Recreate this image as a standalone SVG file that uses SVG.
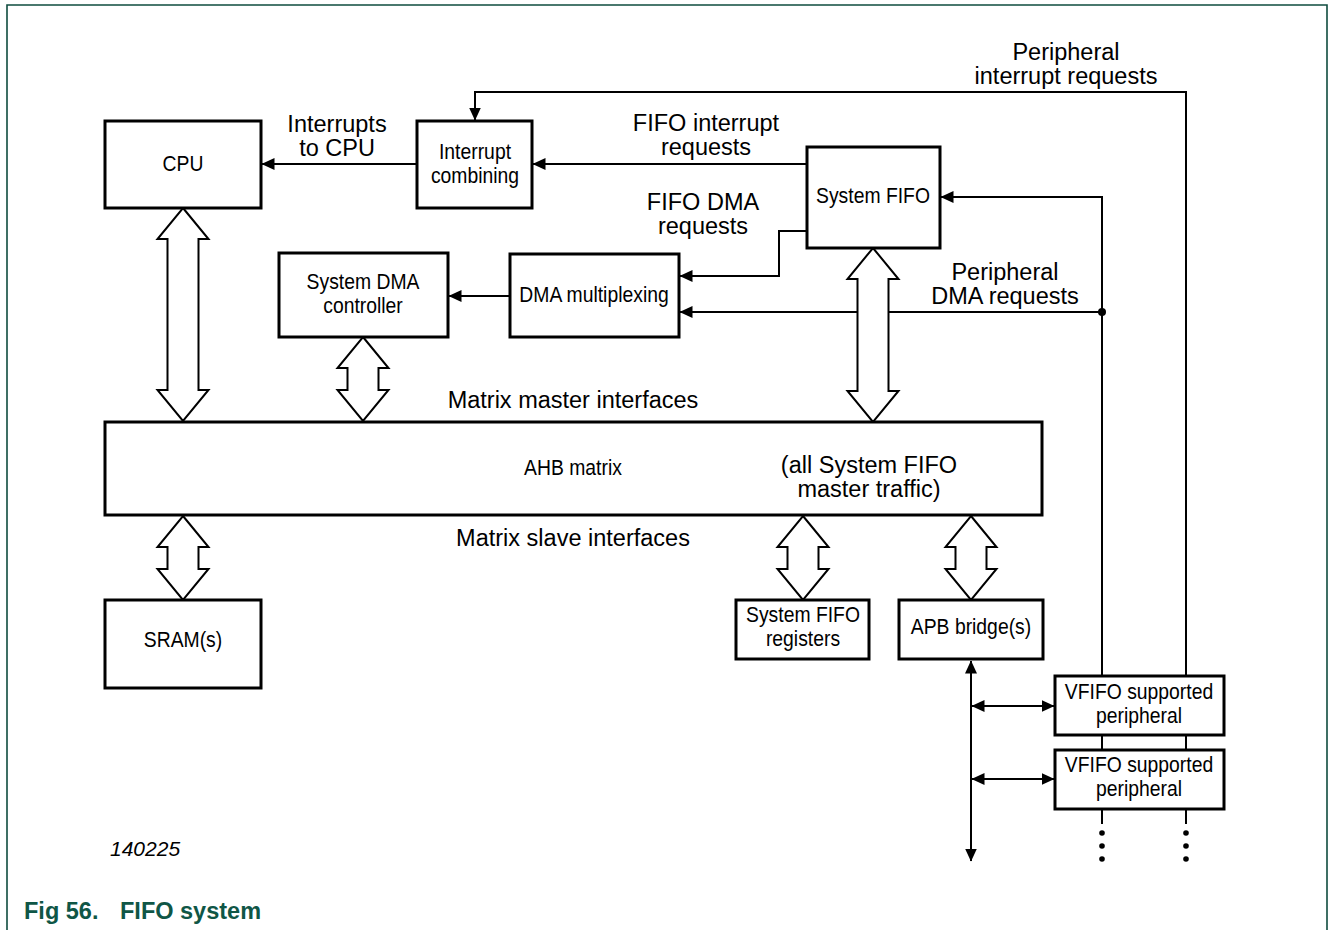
<svg xmlns="http://www.w3.org/2000/svg" width="1328" height="930" viewBox="0 0 1328 930">
<style>
.box{fill:#fff;stroke:#000;stroke-width:3}
.bus{fill:#fff;stroke:#000;stroke-width:2;stroke-linejoin:miter}
.ln{fill:none;stroke:#000;stroke-width:2}
.dash{fill:none;stroke:#000;stroke-width:2;stroke-dasharray:7,5}
.lbl{font-family:"Liberation Sans",Arial,sans-serif;font-size:23.5px;fill:#000;text-anchor:middle}
.bt{font-family:"Liberation Sans",Arial,sans-serif;font-size:22.5px;fill:#000;text-anchor:middle}
.cap{font-family:"Liberation Sans",Arial,sans-serif;font-size:23.5px;font-weight:bold;fill:#0f5646}
.id{font-family:"Liberation Sans",Arial,sans-serif;font-size:21px;font-style:italic;fill:#000}
</style>
<defs>
<marker id="ah" markerUnits="userSpaceOnUse" markerWidth="13" markerHeight="12" viewBox="0 0 13 12" refX="12.5" refY="6" orient="auto-start-reverse">
<path d="M0,0 L13,6 L0,12 z" fill="#000"/>
</marker>
</defs>
<rect width="1328" height="930" fill="#fff"/>
<path d="M7,930 L7,5 L1327,5 L1327,930" fill="none" stroke="#0f4c3f" stroke-width="1.6"/>

<g id="connectors">
<line class="ln" x1="417" y1="164" x2="262" y2="164" marker-end="url(#ah)"/>
<line class="ln" x1="807" y1="164" x2="533" y2="164" marker-end="url(#ah)"/>
<polyline class="ln" points="1186,676 1186,92 475,92 475,120" marker-end="url(#ah)"/>
<polyline class="ln" points="1102,676 1102,197 941,197" marker-end="url(#ah)"/>
<line class="ln" x1="1102" y1="312" x2="680" y2="312" marker-end="url(#ah)"/>
<circle cx="1102" cy="312" r="4" fill="#000"/>
<polyline class="ln" points="807,231 779,231 779,276 680,276" marker-end="url(#ah)"/>
<line class="ln" x1="510" y1="296" x2="449" y2="296" marker-end="url(#ah)"/>
<polyline class="dash" points="873,423 873,441 971,441 971,514" marker-end="url(#ah)"/>
<line class="ln" x1="971" y1="661" x2="971" y2="861" marker-start="url(#ah)" marker-end="url(#ah)"/>
<line class="ln" x1="972" y1="706" x2="1054" y2="706" marker-start="url(#ah)" marker-end="url(#ah)"/>
<line class="ln" x1="972" y1="779" x2="1054" y2="779" marker-start="url(#ah)" marker-end="url(#ah)"/>
<line class="ln" x1="1102" y1="735" x2="1102" y2="750"/>
<line class="ln" x1="1186" y1="735" x2="1186" y2="750"/>
<line class="ln" x1="1102" y1="809" x2="1102" y2="824"/>
<line class="ln" x1="1186" y1="809" x2="1186" y2="824"/>
<g fill="#000">
<circle cx="1102" cy="833" r="2.8"/><circle cx="1102" cy="846" r="2.8"/><circle cx="1102" cy="859" r="2.8"/>
<circle cx="1186" cy="833" r="2.8"/><circle cx="1186" cy="846" r="2.8"/><circle cx="1186" cy="859" r="2.8"/>
</g>
<polygon class="bus" points="183,208 208.5,239 198.5,239 198.5,390 208.5,390 183,421 157.5,390 167.5,390 167.5,239 157.5,239"/>
<polygon class="bus" points="363,337 388.5,368 378.5,368 378.5,390 388.5,390 363,421 337.5,390 347.5,390 347.5,368 337.5,368"/>
<polygon class="bus" points="873,248 898.5,279 888.5,279 888.5,391 898.5,391 873,422 847.5,391 857.5,391 857.5,279 847.5,279"/>
<polygon class="bus" points="183,516 208.5,547 198.5,547 198.5,569 208.5,569 183,600 157.5,569 167.5,569 167.5,547 157.5,547"/>
<polygon class="bus" points="803,516 828.5,547 818.5,547 818.5,569 828.5,569 803,600 777.5,569 787.5,569 787.5,547 777.5,547"/>
<polygon class="bus" points="971,516 996.5,547 986.5,547 986.5,569 996.5,569 971,600 945.5,569 955.5,569 955.5,547 945.5,547"/>
</g>

<g id="labels">
<text class="lbl" x="337" y="131.5">Interrupts</text>
<text class="lbl" x="337" y="155.5">to CPU</text>
<text class="lbl" x="706" y="131">FIFO interrupt</text>
<text class="lbl" x="706" y="155">requests</text>
<text class="lbl" x="1066" y="59.5">Peripheral</text>
<text class="lbl" x="1066" y="83.5">interrupt requests</text>
<text class="lbl" x="703" y="209.5">FIFO DMA</text>
<text class="lbl" x="703" y="233.5">requests</text>
<text class="lbl" x="1005" y="279.5">Peripheral</text>
<text class="lbl" x="1005" y="303.5">DMA requests</text>
<text class="lbl" x="573" y="408">Matrix master interfaces</text>
<text class="lbl" x="573" y="546">Matrix slave interfaces</text>
</g>

<g id="cpu">
<rect class="box" x="105" y="121" width="156" height="87"/>
<text class="bt" transform="translate(183,171) scale(0.86,1)">CPU</text>
</g>
<g id="interrupt-combining">
<rect class="box" x="417" y="121" width="115" height="87"/>
<text class="bt" transform="translate(475,159) scale(0.86,1)">Interrupt</text>
<text class="bt" transform="translate(475,183) scale(0.86,1)">combining</text>
</g>
<g id="system-fifo">
<rect class="box" x="807" y="147" width="133" height="101"/>
<text class="bt" transform="translate(873,203) scale(0.86,1)">System FIFO</text>
</g>
<g id="system-dma">
<rect class="box" x="279" y="253" width="169" height="84"/>
<text class="bt" transform="translate(363,289) scale(0.86,1)">System DMA</text>
<text class="bt" transform="translate(363,313) scale(0.86,1)">controller</text>
</g>
<g id="dma-mux">
<rect class="box" x="510" y="254" width="169" height="83"/>
<text class="bt" transform="translate(594,302) scale(0.86,1)">DMA multiplexing</text>
</g>
<g id="ahb-matrix">
<rect class="box" x="105" y="422" width="937" height="93"/>
<text class="bt" transform="translate(573,475) scale(0.86,1)">AHB matrix</text>
<text class="lbl" x="869" y="473">(all System FIFO</text>
<text class="lbl" x="869" y="497">master traffic)</text>
</g>
<g id="sram">
<rect class="box" x="105" y="600" width="156" height="88"/>
<text class="bt" transform="translate(183,647) scale(0.86,1)">SRAM(s)</text>
</g>
<g id="sfifo-regs">
<rect class="box" x="736" y="600" width="133" height="59"/>
<text class="bt" transform="translate(803,622) scale(0.86,1)">System FIFO</text>
<text class="bt" transform="translate(803,646) scale(0.86,1)">registers</text>
</g>
<g id="apb-bridge">
<rect class="box" x="899" y="600" width="144" height="59"/>
<text class="bt" transform="translate(971,634) scale(0.86,1)">APB bridge(s)</text>
</g>
<g id="vfifo-1">
<rect class="box" x="1055" y="676" width="169" height="59"/>
<text class="bt" transform="translate(1139,699) scale(0.86,1)">VFIFO supported</text>
<text class="bt" transform="translate(1139,723) scale(0.86,1)">peripheral</text>
</g>
<g id="vfifo-2">
<rect class="box" x="1055" y="750" width="169" height="59"/>
<text class="bt" transform="translate(1139,772) scale(0.86,1)">VFIFO supported</text>
<text class="bt" transform="translate(1139,796) scale(0.86,1)">peripheral</text>
</g>

<text class="id" x="110" y="856">140225</text>
<text class="cap" x="24" y="919">Fig 56.</text>
<text class="cap" x="120" y="919">FIFO system</text>
</svg>
